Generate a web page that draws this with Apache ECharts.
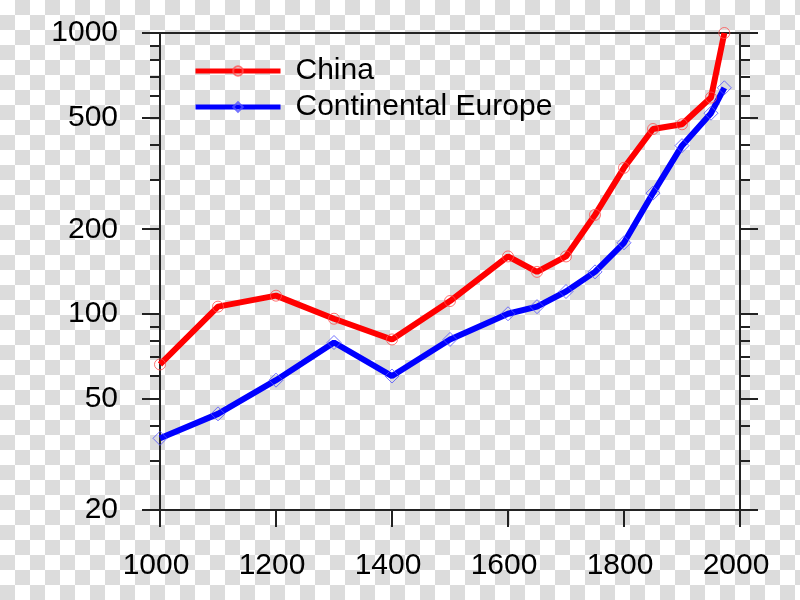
<!DOCTYPE html>
<html><head><meta charset="utf-8">
<script src="https://cdn.jsdelivr.net/npm/echarts@6/dist/echarts.min.js"></script>
<style>
html,body{margin:0;padding:0;}
#chart{width:800px;height:600px;background:repeating-conic-gradient(#dcdcdc 0 25%, #ffffff 0 50%) 0 0/30px 30px;}
</style></head><body><div id="chart"></div>
<script>
const years = [1000, 1100, 1200, 1300, 1400, 1500, 1600, 1650, 1700, 1750, 1800, 1850, 1900, 1950, 1973];
const chinaValues = [66, 106, 116, 96, 81, 111, 160, 141, 160, 225, 331, 455, 473, 589, 1000];
const europeValues = [36, 44, 58, 79, 60, 81, 100, 106, 120, 141, 179, 269, 397, 518, 638];
const yMajorTicks = [20, 50, 100, 200, 500, 1000];
const yMinorTicks = [30, 40, 60, 70, 80, 90, 300, 400, 600, 700, 800, 900];
const seriesNames = ['China', 'Continental Europe'];

const FONT = "'Liberation Sans', Arial, sans-serif";
const AX = '#222';
const plain = v => String(v);

function pairs(xs, ys) { return xs.map((x, i) => [x, ys[i]]); }

const yBase = { type: 'log', logBase: 10, min: 20, max: 1000, splitLine: { show: false } };
function yAx(pos, ticks, len, showLine, showLabel) {
  return Object.assign({}, yBase, {
    position: pos,
    axisLine: { show: showLine, onZero: false, lineStyle: { color: AX, width: 2 } },
    axisTick: { show: true, inside: false, length: len, customValues: ticks, lineStyle: { color: AX, width: 2 } },
    axisLabel: showLabel ? { show: true, customValues: ticks, formatter: plain, margin: 42, fontSize: 30, color: '#000', fontFamily: FONT } : { show: false }
  });
}

const chart = echarts.init(document.getElementById('chart'));
chart.setOption({
  animation: false,
  grid: { left: 160, right: 60, top: 33, bottom: 90, containLabel: false },
  legend: {
    orient: 'vertical', left: 188, top: 51, itemWidth: 85, itemHeight: 12, itemGap: 6,
    data: seriesNames,
    lineStyle: { width: 5 },
    textStyle: { fontSize: 30, color: '#000', fontFamily: FONT, lineHeight: 30, padding: [0, 0, 0, 10] }
  },
  xAxis: [
    { type: 'value', min: 1000, max: 2000, interval: 200, position: 'bottom',
      splitLine: { show: false },
      axisLine: { onZero: false, lineStyle: { color: AX, width: 2 } },
      axisTick: { inside: false, length: 17, lineStyle: { color: AX, width: 2 } },
      axisLabel: { margin: 41, formatter: plain, fontSize: 30, color: '#000', fontFamily: FONT, padding: [0, 8, 0, 0] } },
    { type: 'value', min: 1000, max: 2000, position: 'top',
      splitLine: { show: false },
      axisLine: { onZero: false, lineStyle: { color: AX, width: 2 } },
      axisTick: { show: false }, axisLabel: { show: false } }
  ],
  yAxis: [
    yAx('left', yMajorTicks, 18, true, true),
    yAx('left', yMinorTicks, 10, false, false),
    yAx('right', yMajorTicks, 18, true, false),
    yAx('right', yMinorTicks, 10, false, false)
  ],
  series: [
    { name: seriesNames[0], type: 'line', data: pairs(years, chinaValues), clip: false,
      symbol: 'circle', symbolSize: 11,
      lineStyle: { color: '#ff0000', width: 6 },
      itemStyle: { color: 'rgba(0,0,0,0)', borderColor: 'rgba(255,80,80,0.8)', borderWidth: 1 },
      emphasis: { disabled: true } },
    { name: seriesNames[1], type: 'line', data: pairs(years, europeValues), clip: false,
      symbol: 'diamond', symbolSize: 14,
      lineStyle: { color: '#0000ff', width: 6 },
      itemStyle: { color: 'rgba(0,0,0,0)', borderColor: 'rgba(80,80,255,0.8)', borderWidth: 1 },
      emphasis: { disabled: true } }
  ]
});
</script></body></html>
